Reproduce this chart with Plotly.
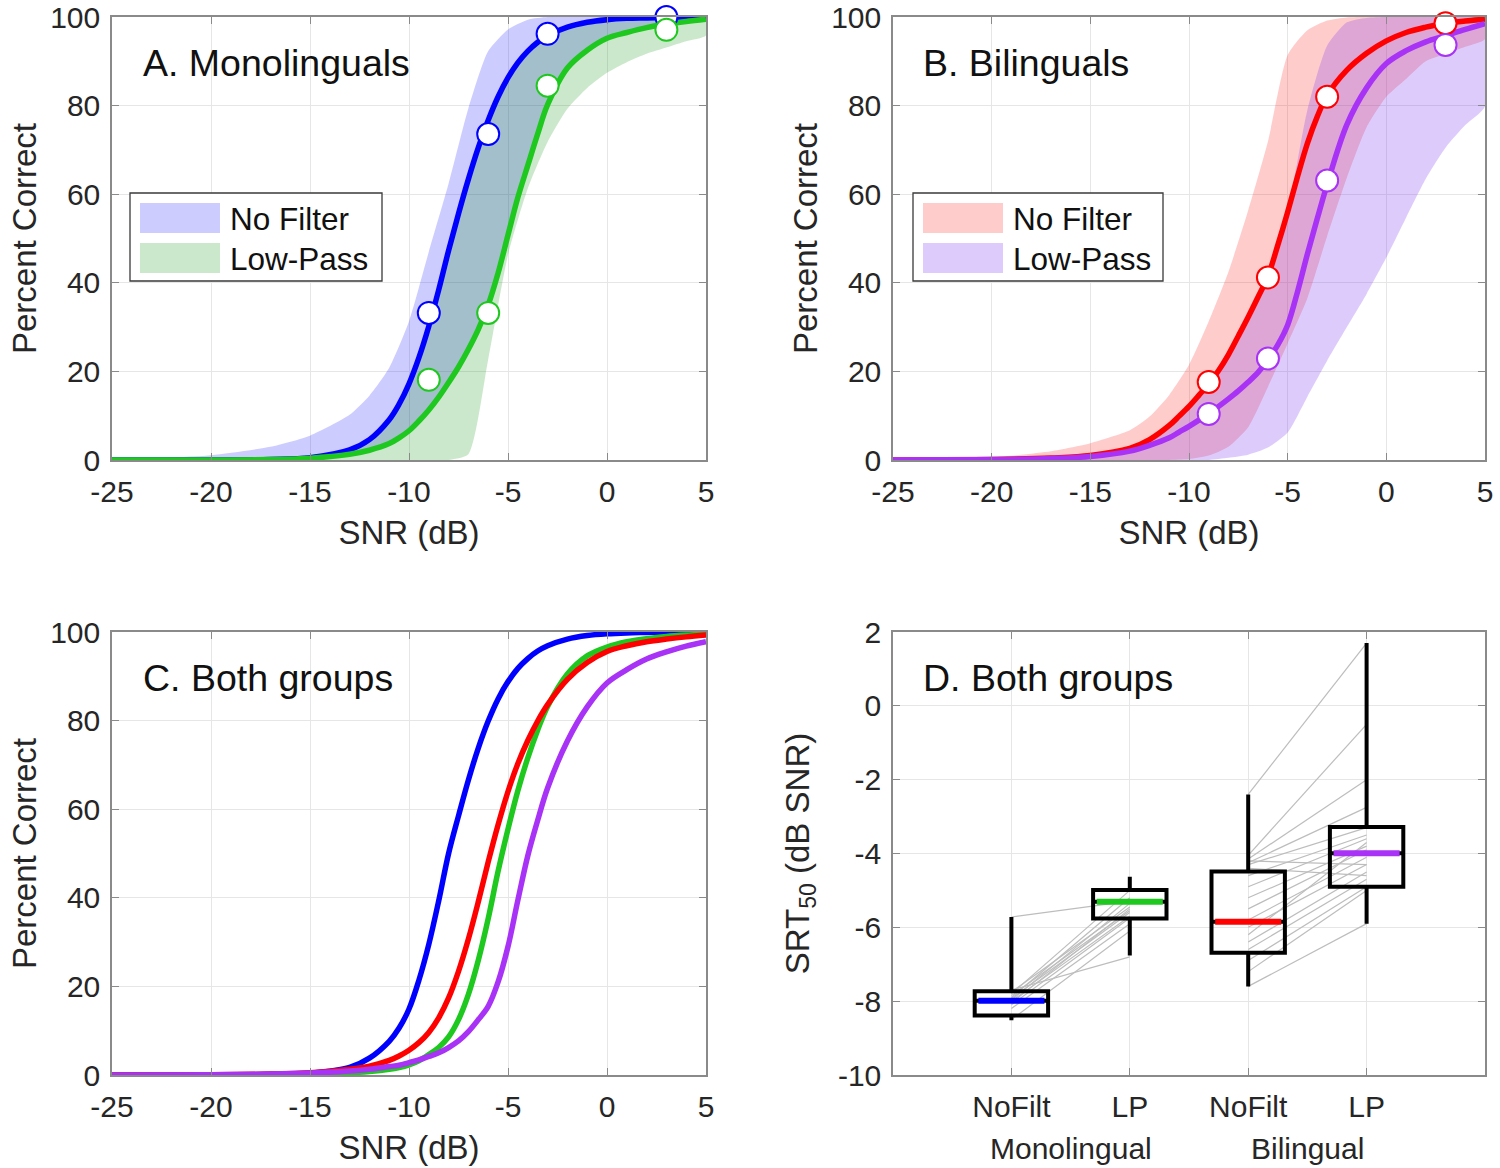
import plotly.graph_objects as go

# ---------------- data ----------------
CURVE_SNR = [-25, -20, -17, -15, -13, -12, -11, -10.5, -10, -9.5, -9, -8.5, -8, -7.5, -7, -6.5, -6,
             -5.5, -5, -4.5, -4, -3.5, -3, -2, -1, 0, 1, 2, 3, 4, 5]
BAND_SNR = [-25, -20, -17, -15, -13, -12, -11, -10, -9, -8, -7, -6, -5, -4, -3, -2, -1, 0, 1, 2, 3, 4, 5]
SNR_POINTS = [-9, -6, -3, 3]

# Panel A (monolinguals): fitted curves
A_NOFILT_CURVE = [0, 0.01, 0.13, 0.54, 2.3, 4.6, 9.1, 12.6, 17.2, 23.1, 30.2, 38.4, 47.3, 55.6, 63.4, 70.5, 76.7,
                  82.0, 86.3, 89.7, 92.3, 94.3, 95.8, 97.7, 98.8, 99.4, 99.7, 99.8, 99.9, 100, 100]
A_LP_CURVE = [0, 0, 0.1, 0.4, 1.3, 2.2, 3.7, 5.0, 6.6, 8.8, 11.3, 14.2, 17.5, 21.0, 25.0, 29.5, 35.0,
              42.2, 50.8, 59.3, 66.5, 73.6, 80.2, 88.5, 92.5, 95.2, 96.5, 97.6, 98.4, 99.0, 99.5]
# Panel A: shaded ranges
A_NOFILT_BAND_HI = [0.1, 1.1, 3.0, 5.5, 10.2, 14.5, 20.8, 31.3, 47, 62.4, 79.4, 92.3, 97.2, 99.4, 100, 100, 100, 100, 100, 100, 100, 100, 100]
A_NOFILT_BAND_LO = [0, 0, 0.1, 0.4, 1.2, 1.9, 3.5, 6.5, 11, 17, 25, 35.5, 51, 66.4, 80.3, 87.7, 92.1, 95, 96.5, 97.7, 98.5, 99.2, 99.6]
A_LP_BAND_HI = [0, 0.01, 0.13, 0.54, 2.3, 4.6, 9.1, 17.2, 30.2, 47.3, 63.4, 76.7, 86.3, 92.3, 95.8, 97.7, 98.8, 99.4, 99.7, 99.8, 99.9, 100, 100]
A_LP_BAND_LO = [0, 0, 0, 0, 0, 0, 0, 0, 0, 0, 1.3, 22.7, 46.3, 61.3, 71.8, 79.3, 84, 87.4, 89.8, 91.7, 93.1, 94.5, 95.8]
A_NOFILT_PTS = [33.2, 73.6, 96.2, 100]
A_LP_PTS = [18.1, 33.2, 84.5, 97.1]

# Panel B (bilinguals)
B_NOFILT_CURVE = [0, 0.1, 0.45, 1, 2.6, 4.6, 7.8, 9.9, 12.1, 14.6, 17.2, 20.2, 23.8, 28.0, 32.3, 36.8, 41.5,
                  48.5, 56.0, 64.0, 71.5, 77.5, 82.3, 88.0, 91.8, 94.6, 96.5, 97.7, 98.6, 99.1, 99.5]
B_LP_CURVE = [0, 0.1, 0.35, 0.8, 2.0, 3.3, 5.0, 6.3, 7.6, 9.0, 10.5, 12.1, 13.8, 15.6, 17.6, 19.8, 22.6,
              26.0, 30.5, 38.0, 46.5, 54.5, 62.2, 75.7, 84.0, 89.5, 92.4, 94.4, 95.8, 97.2, 98.5]
B_NOFILT_BAND_HI = [0, 0.6, 2, 3.8, 6.7, 9.8, 14.7, 21.5, 31.3, 42.5, 56.4, 71.9, 91.4, 97, 99.2, 99.9, 100, 100, 100, 100, 100, 100, 100]
B_NOFILT_BAND_LO = [0, 0, 0, 0, 0, 0, 0, 0.2, 1.0, 3, 7.4, 16.5, 26.3, 36.5, 50.5, 63.7, 75.1, 82, 86, 90, 91.7, 93.3, 95]
B_LP_BAND_HI = [0, 0.1, 0.45, 1, 2.6, 4.6, 7.8, 12.1, 17.2, 23.8, 32.3, 41.5, 56, 79, 93.5, 98.8, 99.8, 100, 100, 100, 100, 100, 100]
B_LP_BAND_LO = [0, 0, 0, 0, 0, 0, 0, 0, 0, 0.5, 1.2, 2.8, 6.2, 14.3, 22.4, 30, 37.5, 45.7, 54.7, 63.5, 70.5, 75.6, 79.8]
B_NOFILT_PTS = [17.6, 41.2, 82.0, 98.6]
B_LP_PTS = [10.4, 22.9, 63.1, 93.7]

# Panel C (both groups)
C_MONO_NOFILT = [0, 0.02, 0.1, 0.4, 1.7, 3.8, 7.6, 10.6, 14.9, 21.4, 29.5, 39.3, 50, 58.5, 66.6, 73.8, 79.9,
                 84.9, 88.8, 91.8, 94.0, 95.7, 96.9, 98.4, 99.2, 99.6, 99.8, 99.9, 100, 100, 100]
C_MONO_LP = [0, 0, 0.1, 0.25, 0.5, 0.8, 1.3, 1.7, 2.3, 3.2, 4.6, 6.2, 8.6, 12.5, 18.2, 25.9, 35.3,
             46.0, 55.5, 64.2, 71.6, 77.9, 83.2, 90.5, 94.6, 96.6, 97.8, 98.5, 99.0, 99.3, 99.5]
C_BI_NOFILT = [0, 0.05, 0.2, 0.5, 1.3, 2.0, 3.3, 4.3, 5.6, 7.3, 9.6, 12.9, 17.4, 23.4, 30.7, 39.1, 48.1,
               56.5, 64.0, 70.3, 75.5, 79.9, 83.6, 89.3, 93.1, 95.6, 96.9, 97.8, 98.4, 98.9, 99.3]
C_BI_LP = [0, 0.05, 0.2, 0.45, 0.9, 1.3, 1.9, 2.2, 2.8, 3.4, 4.2, 5.0, 6.2, 7.7, 9.8, 12.5, 15.5,
           21.0, 29.0, 39.5, 49.5, 57.5, 64.8, 75.4, 83.1, 88.5, 91.5, 93.9, 95.5, 96.8, 97.8]

# Panel D (SRT50 box plots)
D_POS = [1, 2, 3, 4]
D_TICK_LABELS = ["NoFilt", "LP", "NoFilt", "LP"]
D_GROUPS = ["Monolingual", "Bilingual"]
D_GROUP_POS = [1.5, 3.5]
D_Q1 = [-8.39, -5.76, -6.69, -4.9]
D_MEDIAN = [-7.99, -5.31, -5.85, -3.99]
D_Q3 = [-7.73, -4.99, -4.49, -3.28]
D_LOW = [-8.52, -6.76, -7.6, -5.9]
D_HIGH = [-5.72, -4.63, -2.4, 1.7]
MONO_NOFILT_SUBJ = [-5.72, -7.7, -7.75, -7.8, -7.85, -7.9, -7.93, -7.97, -8.0, -8.05, -8.1, -8.2, -8.5]
MONO_LP_SUBJ = [-5.29, -6.8, -5.45, -5.0, -5.55, -5.2, -5.6, -5.35, -5.7, -5.5, -5.75, -5.9, -6.1]
BI_NOFILT_SUBJ = [-2.4, -4.05, -4.15, -4.25, -4.3, -4.6, -4.9, -5.2, -5.5, -5.8, -6.0, -6.2, -6.4, -6.6, -6.9, -7.2, -7.6, -4.4, -4.2]
BI_LP_SUBJ = [1.7, -0.5, -2.0, -2.75, -3.3, -3.5, -3.6, -3.8, -3.9, -4.1, -4.3, -3.7, -4.5, -4.7, -4.9, -5.0, -5.9, -4.6, -4.3]

X_TICKS = [-25, -20, -15, -10, -5, 0, 5]
Y_TICKS = [0, 20, 40, 60, 80, 100]
D_Y_TICKS = [-10, -8, -6, -4, -2, 0, 2]
LEGEND_LABELS = ["No Filter", "Low-Pass"]

# ---------------- style ----------------
BLUE = "#0000ff"
GREEN = "#1ec81e"
RED = "#ff0000"
PURPLE = "#a832f5"
BLUE_FILL = "rgba(0,0,255,0.2)"
GREEN_FILL = "rgba(0,140,0,0.2)"
RED_FILL = "rgba(255,0,0,0.2)"
PURPLE_FILL = "rgba(120,50,240,0.25)"
FONT = "Liberation Sans, Arial, Helvetica, sans-serif"
LINE_W = 5.5

# the page body margin is removed (post_script below), so the figure fills the window
W, H = 1500, 1168


def px_x(px):
    return px / W


def px_y(py):
    return 1 - py / H


fig = go.Figure()


def band(xa, ya, hi, lo, fill):
    fig.add_trace(go.Scatter(
        x=BAND_SNR + BAND_SNR[::-1], y=hi + lo[::-1], mode="lines",
        fill="toself", fillcolor=fill, line=dict(width=0, color=fill, shape="spline", smoothing=0.6),
        showlegend=False, xaxis=xa, yaxis=ya, hoverinfo="skip"))


def curve(xa, ya, vals, color):
    fig.add_trace(go.Scatter(
        x=CURVE_SNR, y=vals, mode="lines",
        line=dict(color=color, width=LINE_W, shape="spline", smoothing=1.0),
        showlegend=False, xaxis=xa, yaxis=ya))


def points(xa, ya, vals, color):
    fig.add_trace(go.Scatter(
        x=SNR_POINTS, y=vals, mode="markers", cliponaxis=False,
        marker=dict(size=22, color="white", line=dict(color=color, width=2)),
        showlegend=False, xaxis=xa, yaxis=ya))


# Panel A
band("x", "y", A_NOFILT_BAND_HI, A_NOFILT_BAND_LO, BLUE_FILL)
band("x", "y", A_LP_BAND_HI, A_LP_BAND_LO, GREEN_FILL)
curve("x", "y", A_NOFILT_CURVE, BLUE)
curve("x", "y", A_LP_CURVE, GREEN)
points("x", "y", A_NOFILT_PTS, BLUE)
points("x", "y", A_LP_PTS, GREEN)

# Panel B
band("x2", "y2", B_NOFILT_BAND_HI, B_NOFILT_BAND_LO, RED_FILL)
band("x2", "y2", B_LP_BAND_HI, B_LP_BAND_LO, PURPLE_FILL)
curve("x2", "y2", B_NOFILT_CURVE, RED)
curve("x2", "y2", B_LP_CURVE, PURPLE)
points("x2", "y2", B_NOFILT_PTS, RED)
points("x2", "y2", B_LP_PTS, PURPLE)

# Panel C
curve("x3", "y3", C_MONO_NOFILT, BLUE)
curve("x3", "y3", C_MONO_LP, GREEN)
curve("x3", "y3", C_BI_NOFILT, RED)
curve("x3", "y3", C_BI_LP, PURPLE)


# Panel D: paired subject lines (base axes, drawn underneath)
def pair_lines(a, b, xa_pos, xb_pos):
    xs, ys = [], []
    for va, vb in zip(a, b):
        xs += [xa_pos, xb_pos, None]
        ys += [va, vb, None]
    fig.add_trace(go.Scatter(x=xs, y=ys, mode="lines", line=dict(color="#bdbdbd", width=1.2),
                             showlegend=False, xaxis="x4", yaxis="y4", hoverinfo="skip"))


pair_lines(MONO_NOFILT_SUBJ, MONO_LP_SUBJ, D_POS[0], D_POS[1])
pair_lines(BI_NOFILT_SUBJ, BI_LP_SUBJ, D_POS[2], D_POS[3])

# boxes on an overlay axis so they sit above the subject lines
BOX_W = 0.62
MED_COLORS = [BLUE, GREEN, RED, PURPLE]
for i, p in enumerate(D_POS):
    fig.add_trace(go.Box(
        x=[p], q1=[D_Q1[i]], median=[D_MEDIAN[i]], q3=[D_Q3[i]],
        lowerfence=[D_LOW[i]], upperfence=[D_HIGH[i]],
        width=BOX_W, whiskerwidth=0, fillcolor="rgba(255,255,255,0)",
        line=dict(color="black", width=4), boxpoints=False,
        showlegend=False, xaxis="x5", yaxis="y5", hoverinfo="skip"))
for i, p in enumerate(D_POS):
    fig.add_trace(go.Scatter(
        x=[p - BOX_W * 0.45, p + BOX_W * 0.45], y=[D_MEDIAN[i], D_MEDIAN[i]], mode="lines",
        line=dict(color=MED_COLORS[i], width=6), showlegend=False, xaxis="x5", yaxis="y5"))

# ---------------- layout ----------------
LEFT_X = [px_x(112), px_x(706)]
RIGHT_X = [px_x(893), px_x(1485)]
TOP_Y = [px_y(460), px_y(17)]
BOT_Y = [px_y(1075), px_y(632)]

AX_COLOR = "#8a8a8a"
TICK_FONT = dict(family=FONT, size=30, color="#262626")
TITLE_FONT = dict(family=FONT, size=33, color="#262626")
COMMON_AX = dict(ticks="inside", ticklen=7, tickcolor=AX_COLOR, showline=True, linecolor=AX_COLOR,
                 linewidth=1.5, mirror="ticks", showgrid=True, gridcolor="#e6e6e6", gridwidth=1,
                 zeroline=False, tickfont=TICK_FONT, automargin=False, ticklabeloverflow="allow")


def xaxis(domain, anchor):
    return dict(domain=domain, anchor=anchor, range=[-25, 5], tickvals=X_TICKS,
                ticktext=[str(v) for v in X_TICKS], ticklabelstandoff=4,
                title=dict(text="SNR (dB)", font=TITLE_FONT, standoff=14), **COMMON_AX)


def yaxis(domain, anchor):
    return dict(domain=domain, anchor=anchor, range=[0, 100], tickvals=Y_TICKS,
                ticktext=[str(v) for v in Y_TICKS], ticklabelstandoff=4,
                title=dict(text="Percent Correct", font=TITLE_FONT, standoff=4), **COMMON_AX)


fig.update_layout(
    width=W, height=H, margin=dict(l=0, r=0, t=0, b=0),
    paper_bgcolor="white", plot_bgcolor="white",
    font=dict(family=FONT, color="#262626"),
    xaxis=xaxis(LEFT_X, "y"), yaxis=yaxis(TOP_Y, "x"),
    xaxis2=xaxis(RIGHT_X, "y2"), yaxis2=yaxis(TOP_Y, "x2"),
    xaxis3=xaxis(LEFT_X, "y3"), yaxis3=yaxis(BOT_Y, "x3"),
    xaxis4=dict(domain=RIGHT_X, anchor="y4", range=[0, 5], tickvals=D_POS, ticktext=D_TICK_LABELS,
                ticklabelstandoff=4, **COMMON_AX),
    yaxis4=dict(domain=BOT_Y, anchor="x4", range=[-10, 2], tickvals=D_Y_TICKS,
                ticktext=[str(v) for v in D_Y_TICKS], ticklabelstandoff=4,
                title=dict(text="SRT<sub>50</sub> (dB SNR)", font=TITLE_FONT, standoff=18), **COMMON_AX),
    xaxis5=dict(overlaying="x4", anchor="y5", range=[0, 5], visible=False, automargin=False),
    yaxis5=dict(overlaying="y4", anchor="x5", range=[-10, 2], visible=False, automargin=False),
    boxmode="overlay",
    showlegend=False,
)

PANEL_FONT = dict(family=FONT, size=37.5, color="#111111")
panel_labels = [("A. Monolinguals", "x domain", "y domain"),
                ("B. Bilinguals", "x2 domain", "y2 domain"),
                ("C. Both groups", "x3 domain", "y3 domain"),
                ("D. Both groups", "x4 domain", "y4 domain")]
for text, xr, yr in panel_labels:
    fig.add_annotation(text=text, xref=xr, yref=yr, x=0.048, y=0.896, xanchor="left", yanchor="middle",
                       showarrow=False, font=PANEL_FONT)

for g, gx in zip(D_GROUPS, D_GROUP_POS):
    fig.add_annotation(text=g, xref="x4", yref="paper", x=gx, y=px_y(1148), xanchor="center",
                       yanchor="middle", showarrow=False, font=TICK_FONT)

# legends (boxed, with large filled swatches) for panels A and B
LEG_FONT = dict(family=FONT, size=31.5, color="#111111")
for left_px, box_w, fills in [(130, 252, [BLUE_FILL, GREEN_FILL]), (913, 250, [RED_FILL, PURPLE_FILL])]:
    fig.add_shape(type="rect", xref="paper", yref="paper",
                  x0=px_x(left_px), x1=px_x(left_px + box_w), y0=px_y(281), y1=px_y(193),
                  line=dict(color="#3a3a3a", width=1.3), fillcolor="white", layer="above")
    for k, (lab, fc) in enumerate(zip(LEGEND_LABELS, fills)):
        top = 203 + 40 * k
        fig.add_shape(type="rect", xref="paper", yref="paper",
                      x0=px_x(left_px + 10), x1=px_x(left_px + 90), y0=px_y(top + 30), y1=px_y(top),
                      line=dict(width=0), fillcolor=fc, layer="above")
        fig.add_annotation(text=lab, xref="paper", yref="paper", x=px_x(left_px + 98),
                           y=px_y(top + 16), xanchor="left", yanchor="middle",
                           showarrow=False, font=LEG_FONT)

fig.write_html("out.html", config={"displayModeBar": False},
               post_script="document.body.style.margin='0px';document.body.style.padding='0px';")
